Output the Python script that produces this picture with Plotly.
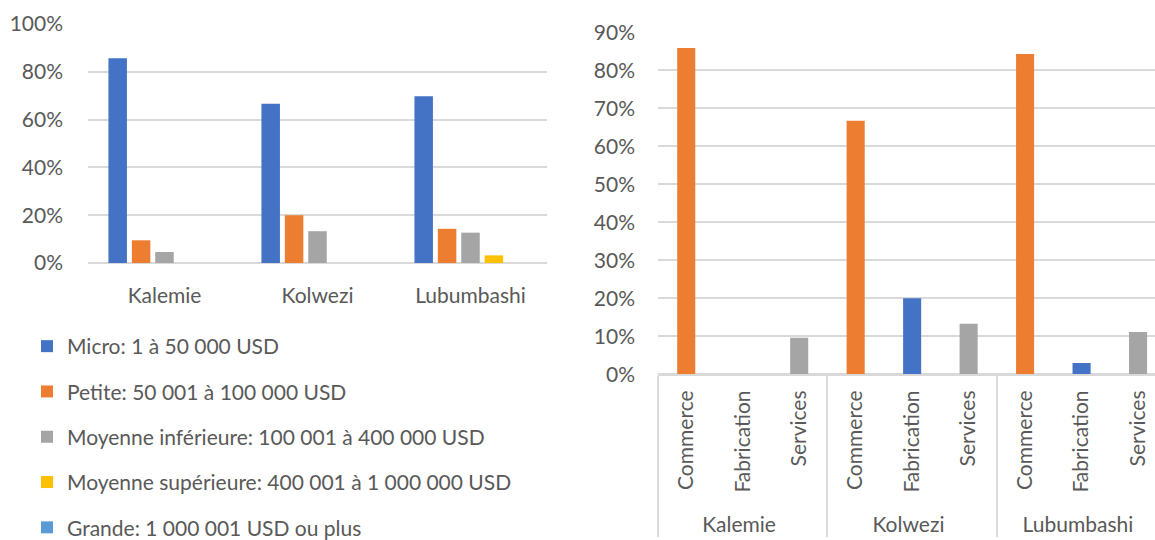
import plotly.graph_objects as go

W, H = 1155, 540

# ---------- data ----------
cities = ["Kalemie", "Kolwezi", "Lubumbashi"]
size_names = [
    "Micro: 1 à 50 000 USD",
    "Petite: 50 001 à 100 000 USD",
    "Moyenne inférieure: 100 001 à 400 000 USD",
    "Moyenne supérieure: 400 001 à 1 000 000 USD",
    "Grande: 1 000 001 USD ou plus",
]
micro = [0.857, 0.666, 0.698]
petite = [0.095, 0.200, 0.143]
moy_inf = [0.046, 0.133, 0.127]
moy_sup = [0.0, 0.0, 0.032]
grande = [0.0, 0.0, 0.0]
size_values = [micro, petite, moy_inf, moy_sup, grande]
size_colors = ["#4472C4", "#ED7D31", "#A5A5A5", "#FFC000", "#5B9BD5"]

sectors = ["Commerce", "Fabrication", "Services"]
commerce = [0.859, 0.667, 0.843]
fabrication = [0.0, 0.200, 0.030]
services = [0.096, 0.133, 0.111]
sector_colors = {"Commerce": "#ED7D31", "Fabrication": "#4472C4", "Services": "#A5A5A5"}

FONT = "Lato"
TXT = "#595959"
GRID = "#D9D9D9"
PAD = "\u00a0"  # non-breaking padding: lowers the city row slightly

fig = go.Figure()

for i, (name, vals, col) in enumerate(zip(size_names, size_values, size_colors)):
    fig.add_trace(go.Bar(
        x=cities, y=vals, name=name, marker=dict(color=col, line=dict(width=0)),
        xaxis="x", yaxis="y", legendgroup=f"g{i}", showlegend=True,
    ))

# right panel: multicategory
outer, inner, vals, cols = [], [], [], []
sector_vals = {"Commerce": commerce, "Fabrication": fabrication, "Services": services}
for ci, c in enumerate(cities):
    for s in sectors:
        outer.append(c)
        inner.append(PAD + s)
        vals.append(sector_vals[s][ci])
        cols.append(sector_colors[s])

fig.add_trace(go.Bar(
    x=[outer, inner], y=vals, marker=dict(color=cols, line=dict(width=0)),
    width=0.32, xaxis="x2", yaxis="y2", showlegend=False,
))

fig.update_layout(
    width=W, height=H,
    margin=dict(l=0, r=0, t=0, b=0, autoexpand=False),
    paper_bgcolor="white", plot_bgcolor="white",
    font=dict(family=FONT, size=21, color=TXT),
    barmode="group", bargap=0.235, bargroupgap=0.21,
    showlegend=True,
    legend=dict(
        x=27 / W, xanchor="left", y=1 - 326 / H, yanchor="top",
        orientation="v", tracegroupgap=15, traceorder="grouped",
        font=dict(family=FONT, size=21, color=TXT), bgcolor="rgba(0,0,0,0)",
    ),
    xaxis=dict(
        domain=[88 / W, 547 / W], anchor="y", type="category", automargin=False,
        showgrid=False, showline=False, ticks="", ticklabelstandoff=18,
        tickfont=dict(family=FONT, size=21, color=TXT),
    ),
    yaxis=dict(
        domain=[1 - 263 / H, 1 - 24 / H], anchor="x", range=[0, 1.0], automargin=False,
        dtick=0.2, tickformat=".0%", showgrid=True, gridcolor=GRID, gridwidth=1.5,
        zeroline=True, zerolinecolor=GRID, zerolinewidth=1.5,
        showline=False, ticks="", ticklabelstandoff=24,
        tickfont=dict(family=FONT, size=21, color=TXT),
    ),
    xaxis2=dict(
        domain=[658 / W, 1.0], anchor="y2", type="multicategory", automargin=False,
        range=[-0.5, 8.3], showgrid=False, showline=True, linecolor=GRID, linewidth=1.5,
        showdividers=True, dividercolor=GRID, dividerwidth=1.5,
        ticks="", tickangle=-90, ticklabelstandoff=6,
        tickfont=dict(family=FONT, size=21, color=TXT),
    ),
    yaxis2=dict(
        domain=[1 - 374.3 / H, 1 - 32.3 / H], anchor="x2", range=[0, 0.9], automargin=False,
        dtick=0.1, tickformat=".0%", showgrid=True, gridcolor=GRID, gridwidth=1.5,
        zeroline=True, zerolinecolor=GRID, zerolinewidth=1.5,
        showline=False, ticks="", ticklabelstandoff=22,
        tickfont=dict(family=FONT, size=21, color=TXT),
    ),
)

fig.write_html("out.html")
